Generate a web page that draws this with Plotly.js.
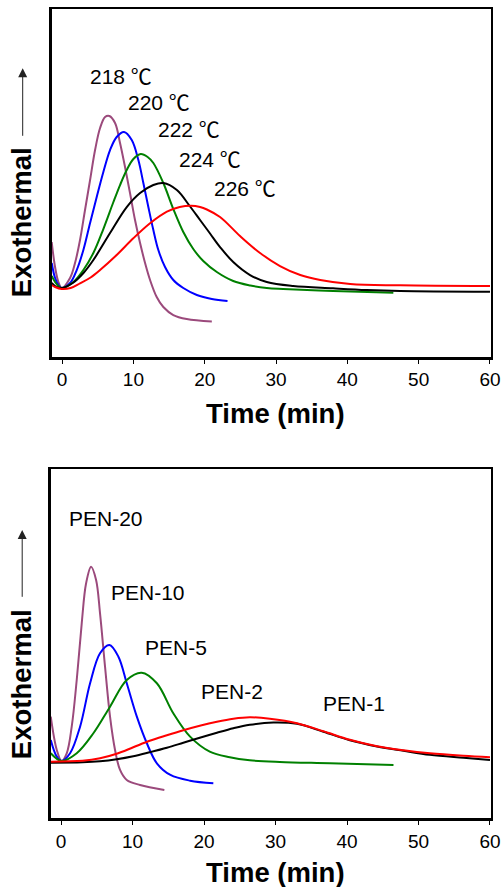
<!DOCTYPE html>
<html>
<head>
<meta charset="utf-8">
<script src="https://cdn.plot.ly/plotly-3.0.1.min.js"></script>
<style>html,body{margin:0;padding:0;background:#fff;}#chart{width:502px;height:887px;}</style>
</head>
<body>
<div id="chart"></div>
<script>
// ---------- DATA (y in arbitrary heat-flow units) ----------
// Top panel: isothermal crystallization at different temperatures
var tempLabels = ['218 \u2103', '220 \u2103', '222 \u2103', '224 \u2103', '226 \u2103'];
var t218 = [-1.45, -0.98, -0.51, -0.05, 1.12, 1.82, 2.52, 3.22, 3.93, 4.63, 5.33, 6.03, 6.63, 7.43, 8.13, 8.83, 9.53, 10.23, 10.94, 11.64, 12.34, 13.27, 14.2, 15.6, 17.48, 21.0];
var e218 = [115, 90, 75, 69, 79, 94, 117, 147, 177, 207, 229, 240, 241, 234, 214, 190, 164, 137, 114, 94, 77, 60, 50, 42, 38, 35.5];
var t220 = [-1.45, -0.98, -0.51, -0.05, 1.12, 2.06, 2.99, 3.93, 4.86, 5.79, 6.73, 7.66, 8.69, 9.77, 10.7, 11.4, 12.1, 12.8, 13.5, 14.44, 15.6, 17.0, 18.9, 21.0, 23.2];
var e220 = [94, 79, 72, 69, 74, 87, 107, 134, 160, 185, 207, 220, 225, 217, 197, 174, 150, 127, 107, 90, 77, 69, 62, 58, 56];
var t222 = [-1.45, -0.98, -0.51, -0.05, 1.59, 2.99, 4.39, 5.79, 7.2, 8.13, 9.07, 10.0, 11.03, 12.0, 12.8, 14.2, 15.6, 17.0, 18.4, 19.8, 21.7, 24.0, 26.4, 28.7, 31.0, 38, 46.45];
var e222 = [81, 75, 71, 69, 75, 87, 104, 128, 155, 172, 187, 198, 203, 200, 194, 174, 148, 125, 108, 96, 85, 76, 71.5, 69, 68, 66, 64.3];
var t224 = [-1.45, -0.98, -0.05, 1.5, 3.0, 4.39, 6.73, 9.07, 10.94, 12.8, 14.2, 16.1, 17.9, 19.35, 20.75, 22.15, 24.0, 26.36, 28.7, 32.4, 38, 42.7, 47.4, 60];
var e224 = [74, 71, 69, 74, 84, 97, 124, 150, 164, 172, 174, 167, 151, 137, 123.5, 110, 95, 82, 75, 71, 68.7, 67, 66, 65.3];
var t226 = [-1.45, -0.98, -0.05, 1.2, 2.52, 4.0, 5.33, 7.66, 9.99, 12.34, 14.7, 16.5, 18.1, 19.35, 20.3, 22.15, 24.95, 27.76, 30.56, 33.4, 36.2, 40.4, 47.4, 60];
var e226 = [72, 70, 68, 69, 73.7, 79.5, 87, 102, 118.7, 133.7, 145.3, 150, 151.3, 150, 147.5, 140, 121, 104, 91, 82, 77, 73, 71.7, 71];

// Bottom panel: different PEN contents
var penLabels = ['PEN-20', 'PEN-10', 'PEN-5', 'PEN-2', 'PEN-1'];
var tP20 = [-1.44, -0.6, 0.07, 0.79, 1.49, 2.19, 2.89, 3.5, 4.2, 4.9, 5.45, 6.15, 6.85, 7.55, 8.25, 9.19, 11.05, 14.45];
var eP20 = [101.6, 68.3, 57.3, 65, 91.6, 138.3, 195, 235, 251.6, 238.3, 205, 151.6, 101.6, 68.3, 48.3, 38.3, 33.3, 28.3];
var tP10 = [-1.44, -0.6, 0.07, 1.26, 2.66, 4.06, 5.45, 6.76, 8.02, 9.19, 10.6, 12.0, 13.4, 15.3, 18.05, 21.3];
var eP10 = [78.3, 61.6, 57.3, 65, 91.6, 135, 165, 173.3, 161.6, 135, 101.6, 75, 55, 43.3, 37.6, 35];
var tP5 = [-1.44, 0.07, 2.19, 4.52, 6.85, 9.19, 11.28, 13.4, 15.7, 18.05, 20.8, 23.6, 26.4, 30.6, 37.6, 46.5];
var eP5 = [65, 57.3, 65, 85, 111.6, 138.3, 145.6, 135, 105, 81.6, 66.6, 61, 58, 56.3, 55, 53.3];
var tP2 = [-1.44, 3.0, 5.45, 7.78, 10.1, 12.4, 14.8, 17.1, 19.4, 21.8, 24.1, 26.4, 29.2, 33.0, 36.7, 40.4, 44.2, 47.9, 51.6, 56.3, 60];
var eP2 = [56.6, 57.5, 60, 64.5, 71, 77.5, 83, 88, 92.5, 96.5, 99.5, 101, 99.5, 95, 87, 78.5, 72, 68, 65, 62.5, 61];
var tP1 = [-1.44, 3.0, 5.45, 7.78, 10.1, 12.4, 14.8, 17.1, 19.4, 21.8, 24.1, 26.4, 29.7, 33.0, 36.7, 40.4, 44.2, 47.9, 51.6, 56.3, 60];
var eP1 = [55.6, 56, 57, 59, 62, 66, 70.5, 75.5, 80.5, 85.5, 90, 93.5, 95.8, 94.5, 86.5, 78, 71.8, 67.5, 63.5, 60.5, 58.3];

var xTicks = [0, 10, 20, 30, 40, 50, 60];
var xTitle = 'Time (min)';
var yTitle = 'Exothermal';

// ---------- STYLE ----------
var colors = ['#9b4a7c', '#0000ff', '#008000', '#000000', '#ff0000'];
var FONT = 'Liberation Sans, Arial, Noto Sans CJK KR, sans-serif';
var W = 502, H = 887;
function px(x) { return x / W; }
function py(y) { return 1 - y / H; }

function line(x, y, c, xa, ya) {
  return {x: x, y: y, type: 'scatter', mode: 'lines', xaxis: xa, yaxis: ya,
          line: {color: c, width: 2, shape: 'spline', smoothing: 1}, hoverinfo: 'skip'};
}

var traces = [
  line(t218, e218, colors[0], 'x', 'y'),
  line(t220, e220, colors[1], 'x', 'y'),
  line(t222, e222, colors[2], 'x', 'y'),
  line(t224, e224, colors[3], 'x', 'y'),
  line(t226, e226, colors[4], 'x', 'y'),
  line(tP20, eP20, colors[0], 'x2', 'y2'),
  line(tP10, eP10, colors[1], 'x2', 'y2'),
  line(tP5, eP5, colors[2], 'x2', 'y2'),
  line(tP1, eP1, colors[3], 'x2', 'y2'),
  line(tP2, eP2, colors[4], 'x2', 'y2')
];

function xAxis(domain, anchor) {
  return {domain: domain, anchor: anchor, range: [-1.45, 60.1], tickvals: xTicks,
          ticks: 'outside', ticklen: 4, tickwidth: 1, tickcolor: '#000',
          showline: true, mirror: true, linewidth: 2.6, linecolor: '#000',
          showgrid: false, zeroline: false, fixedrange: true,
          tickfont: {family: FONT, size: 19, color: '#000'}};
}
function yAxis(domain, anchor, top) {
  return {domain: domain, anchor: anchor, range: [0, top], showticklabels: false, ticks: '',
          showline: true, mirror: true, linewidth: 2.6, linecolor: '#000',
          showgrid: false, zeroline: false, fixedrange: true};
}

var labelPosTop = [[120.5, 75], [158.8, 101], [188.8, 129], [210, 158.3], [244.7, 188]];
var labelPosBot = [[106.2, 517.8], [148, 591.3], [176.3, 646.5], [231.7, 690.3], [354.2, 702]];

var ann = [];
tempLabels.forEach(function (t, i) {
  ann.push({text: t, xref: 'paper', yref: 'paper', x: px(labelPosTop[i][0]), y: py(labelPosTop[i][1] + 1),
            xanchor: 'center', yanchor: 'middle', showarrow: false, font: {family: FONT, size: 21, color: '#000'}});
});
penLabels.forEach(function (t, i) {
  ann.push({text: t, xref: 'paper', yref: 'paper', x: px(labelPosBot[i][0]), y: py(labelPosBot[i][1] + 1),
            xanchor: 'center', yanchor: 'middle', showarrow: false, font: {family: FONT, size: 21, color: '#000'}});
});
// axis titles
[[275.8, 413], [275.8, 872]].forEach(function (p) {
  ann.push({text: '<b>' + xTitle + '</b>', xref: 'paper', yref: 'paper', x: px(p[0]), y: py(p[1]),
            xanchor: 'center', yanchor: 'middle', showarrow: false, font: {family: FONT, size: 27.5, color: '#000'}});
});
[[21.7, 222.5], [21.2, 684]].forEach(function (p) {
  ann.push({text: '<b>' + yTitle + '</b>', xref: 'paper', yref: 'paper', x: px(p[0]), y: py(p[1]),
            xanchor: 'center', yanchor: 'middle', textangle: -90, showarrow: false,
            font: {family: FONT, size: 27.5, color: '#000'}});
});
// upward arrows next to y titles
[[22.7, 68.3, 137.3], [22.2, 530, 598.3]].forEach(function (p) {
  ann.push({text: '', xref: 'paper', yref: 'paper', x: px(p[0]), y: py(p[1]),
            ax: 0, ay: p[2] - p[1], axref: 'pixel', ayref: 'pixel',
            showarrow: true, arrowhead: 2, arrowsize: 1.8, arrowwidth: 1, arrowcolor: '#222', standoff: 0});
});

var layout = {
  width: W, height: H, margin: {l: 0, r: 0, t: 0, b: 0},
  paper_bgcolor: '#fff', plot_bgcolor: '#fff', showlegend: false,
  font: {family: FONT, color: '#000'},
  xaxis: xAxis([0.103, 0.9775], 'y'),
  yaxis: yAxis([0.5975, 0.9895], 'x', 347.7),
  xaxis2: xAxis([0.101, 0.9775], 'y2'),
  yaxis2: yAxis([0.0775, 0.4709], 'x2', 349),
  annotations: ann
};

Plotly.newPlot('chart', traces, layout, {staticPlot: true, displayModeBar: false});
</script>
</body>
</html>
